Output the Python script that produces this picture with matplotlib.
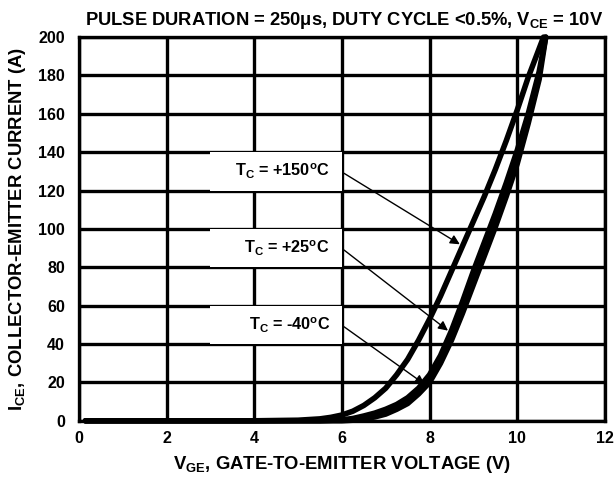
import matplotlib
matplotlib.use("Agg")
import matplotlib.pyplot as plt
import matplotlib.patches as mpatches

plt.rcParams["font.family"] = ["Liberation Sans", "DejaVu Sans"]
plt.rcParams["font.weight"] = "bold"
plt.rcParams["mathtext.fontset"] = "custom"
plt.rcParams["mathtext.rm"] = "Liberation Sans:bold"
plt.rcParams["mathtext.it"] = "Liberation Sans:bold"
plt.rcParams["mathtext.bf"] = "Liberation Sans:bold"
plt.rcParams["mathtext.sf"] = "Liberation Sans:bold"

# ── data ────────────────────────────────────────────────────────────────
v_150 = [0.15, 2.0, 4.0, 5.0, 5.5, 5.75, 6.0, 6.25, 6.5, 6.75, 7.0, 7.25, 7.5, 7.75,
         8.0, 8.25, 8.5, 8.75, 9.0, 9.25, 9.5, 9.75, 10.0, 10.25, 10.6]
i_150 = [0, 0, 0, 0.3, 1, 1.8, 3, 5, 8, 12, 17, 24, 32, 42,
         53, 65, 78, 91, 104, 117, 131, 146, 162, 179, 200]

v_25 = [0.15, 2.0, 4.0, 5.5, 6.0, 6.25, 6.5, 6.75, 7.0, 7.25, 7.5, 7.75,
        8.0, 8.25, 8.5, 8.75, 9.0, 9.25, 9.5, 9.75, 10.0, 10.25, 10.5, 10.65]
i_25 = [0, 0, 0, 0, 0.5, 1.2, 2.5, 4, 6, 8.5, 12, 17,
        24, 34, 47, 62, 78, 93, 108, 124, 141, 160, 182, 200]

v_m40 = [0.15, 2.0, 4.0, 6.0, 6.25, 6.5, 6.75, 7.0, 7.25, 7.5, 7.75,
         8.0, 8.25, 8.5, 8.75, 9.0, 9.25, 9.5, 9.75, 10.0, 10.25, 10.5, 10.65]
i_m40 = [0, 0, 0, 0, 0.3, 1, 2, 3.5, 6, 9, 14,
         20, 30, 42, 56, 71, 86, 101, 117, 134, 155, 178, 200]

labels = [r"T$_C$ = +150$^o$C", r"T$_C$ = +25$^o$C", r"T$_C$ = -40$^o$C"]
label_rows = [(120, 140), (80, 100), (40, 60)]
arrow_tips = [(8.69, 92), (8.42, 47), (7.89, 19)]

x_ticks = [0, 2, 4, 6, 8, 10, 12]
y_ticks = [0, 20, 40, 60, 80, 100, 120, 140, 160, 180, 200]

# ── figure ──────────────────────────────────────────────────────────────
fig = plt.figure(figsize=(6.16, 4.82), dpi=100, facecolor="white")
ax = fig.add_axes([0.128, 0.127, 0.854, 0.796])
ax.set_xlim(0, 12)
ax.set_ylim(0, 200)
ax.set_xticks(x_ticks)
ax.set_yticks(y_ticks)
ax.tick_params(length=0, labelsize=11.5)
ax.tick_params(axis="x", pad=7)
ax.tick_params(axis="y", pad=10)
for lab in ax.get_xticklabels() + ax.get_yticklabels():
    lab.set_fontweight("bold")
ax.grid(True, color="black", linewidth=2.4, zorder=1)
ax.set_axisbelow(True)
for s in ax.spines.values():
    s.set_linewidth(2.4)
    s.set_zorder(2)

for v, i in [(v_150, i_150), (v_25, i_25), (v_m40, i_m40)]:
    ax.plot(v, i, color="black", linewidth=4, solid_capstyle="round",
            zorder=4, clip_on=False)

for text, (y0, y1), tip in zip(labels, label_rows, arrow_tips):
    ax.add_patch(mpatches.Rectangle((3.0, y0), 3.0, y1 - y0, facecolor="white",
                                    edgecolor="none", zorder=3))
    ax.text(5.73, (y0 + y1) / 2, text, ha="right", va="center",
            fontsize=11.7, fontweight="bold", zorder=5)
    ax.annotate("", xy=tip, xytext=(6.05, (y0 + y1) / 2 - 1),
                arrowprops=dict(arrowstyle="-|>", color="black", lw=1,
                                mutation_scale=14, shrinkA=0, shrinkB=0),
                zorder=6)

ax.set_title(r"PULSE DURATION = 250μs, DUTY CYCLE <0.5%, V$_{CE}$ = 10V",
             fontsize=13.2, fontweight="bold", pad=9, x=0.505)
ax.set_xlabel(r"V$_{GE}$, GATE-TO-EMITTER VOLTAGE (V)", fontsize=13.3,
              fontweight="bold", labelpad=6)
ax.set_ylabel(r"I$_{CE}$, COLLECTOR-EMITTER CURRENT (A)", fontsize=13.3,
              fontweight="bold", labelpad=7)

fig.savefig("out.png", dpi=100, facecolor="white")
